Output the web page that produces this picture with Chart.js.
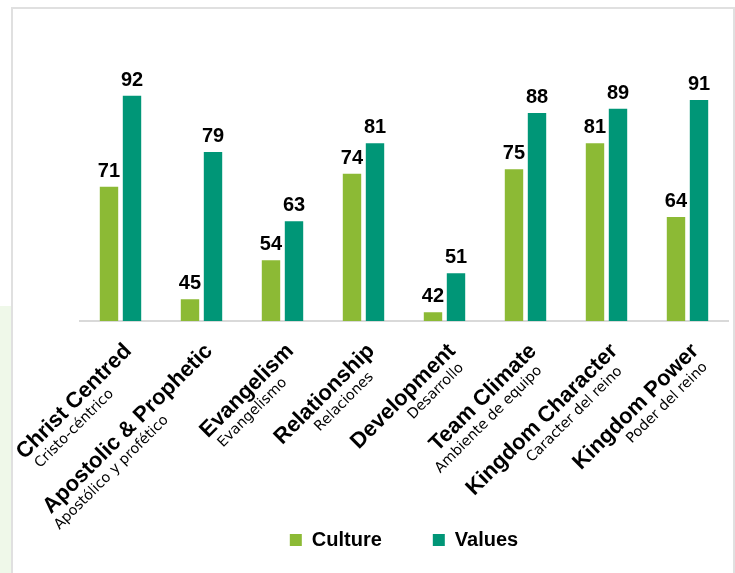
<!DOCTYPE html>
<html>
<head>
<meta charset="utf-8">
<script src="https://cdn.jsdelivr.net/npm/chart.js@4.4.0/dist/chart.umd.min.js"></script>
<style>
  html, body { margin: 0; padding: 0; background: #fff; }
  #wrap { position: relative; width: 735px; height: 573px; overflow: hidden; }
  #side { position: absolute; left: 0; top: 306px; width: 11px; height: 267px; background: #eff8e9; }
  #frame { position: absolute; left: 11px; top: 7px; width: 720px; height: 620px; border: 2px solid #e0e0e0; }
  canvas { position: absolute; left: 0; top: 0; }
</style>
</head>
<body>
<div id="wrap">
  <div id="side"></div>
  <div id="frame"></div>
  <canvas id="chart" width="735" height="573"></canvas>
</div>
<script>
// categories (english + spanish sub line)
var categories = ["Christ Centred", "Apostolic & Prophetic", "Evangelism", "Relationship",
                  "Development", "Team Climate", "Kingdom Character", "Kingdom Power"];
var categoriesEs = ["Cristo-céntrico", "Apostólico y profético", "Evangelismo", "Relaciones",
                    "Desarrollo", "Ambiente de equipo", "Caracter del reino", "Poder del reino"];

var cultureValues = [71, 45, 54, 74, 42, 75, 81, 64];
var valuesValues  = [92, 79, 63, 81, 51, 88, 89, 91];

var seriesNames = ["Culture", "Values"];
var seriesColors = ["#8CBA35", "#009677"];

var axisMin = 40;
var axisMax = 100;

var boldFont = '"Liberation Sans", Arial, sans-serif';
var subFont = '"DejaVu Sans", Verdana, sans-serif';

// numbers on top of the bars
var barValuePlugin = {
	id: "barValues",
	afterDatasetsDraw: function (chart) {
		var ctx = chart.ctx;
		ctx.save();
		ctx.font = "bold 20px " + boldFont;
		ctx.fillStyle = "#000";
		ctx.textAlign = "center";
		ctx.textBaseline = "alphabetic";
		chart.data.datasets.forEach(function (ds, i) {
			var meta = chart.getDatasetMeta(i);
			meta.data.forEach(function (bar, j) {
				ctx.fillText(ds.data[j], bar.x, bar.y - 10);
			});
		});
		ctx.restore();
	}
};

// two line rotated category labels, first line bold.
// the spanish line is slid along the text direction a bit differently per label
var subShift = [-43, -80, -27, -19, -6, -10, -11, -5];

var catLabelPlugin = {
	id: "catLabels",
	afterDraw: function (chart) {
		var ctx = chart.ctx;
		var xs = chart.scales.x;
		categories.forEach(function (name, i) {
			var cx = xs.getPixelForValue(i);
			ctx.save();
			ctx.translate(cx + 12, xs.top + 31);
			ctx.rotate(-Math.PI / 4);
			ctx.fillStyle = "#000";
			ctx.textBaseline = "alphabetic";
			ctx.font = "bold 22px " + boldFont;
			ctx.textAlign = "right";
			ctx.fillText(name, 0, 0);
			ctx.font = "14.3px " + subFont;
			ctx.fillText(categoriesEs[i], subShift[i], 17);
			ctx.restore();
		});
	}
};

var ctx1 = document.getElementById("chart");

var data1 = {
	labels: categories,
	datasets: [
		{
			label: seriesNames[0],
			data: cultureValues,
			backgroundColor: seriesColors[0],
			borderWidth: 0
		},
		{
			label: seriesNames[1],
			data: valuesValues,
			backgroundColor: seriesColors[1],
			borderWidth: 0
		}
	]
};

var options1 = {
	responsive: false,
	animation: false,
	categoryPercentage: 0.568,
	barPercentage: 0.8,
	layout: {
		padding: { left: 80, right: 7, top: 61, bottom: 13 }
	},
	scales: {
		x: {
			grid: { display: false },
			border: { display: true, color: "#d9d9d9", width: 2 },
			ticks: { display: false },
			afterFit: function (scale) { scale.height = 158; }
		},
		y: {
			display: false,
			min: axisMin,
			max: axisMax
		}
	},
	plugins: {
		legend: {
			display: true,
			position: "bottom",
			labels: {
				color: "#000",
				boxWidth: 12,
				boxHeight: 12,
				padding: 51,
				font: { family: boldFont, weight: "bold", size: 20 }
			}
		},
		tooltip: { enabled: false }
	}
};

var chart1 = new Chart(ctx1, {
	type: "bar",
	data: data1,
	options: options1,
	plugins: [barValuePlugin, catLabelPlugin]
});
</script>
</body>
</html>
